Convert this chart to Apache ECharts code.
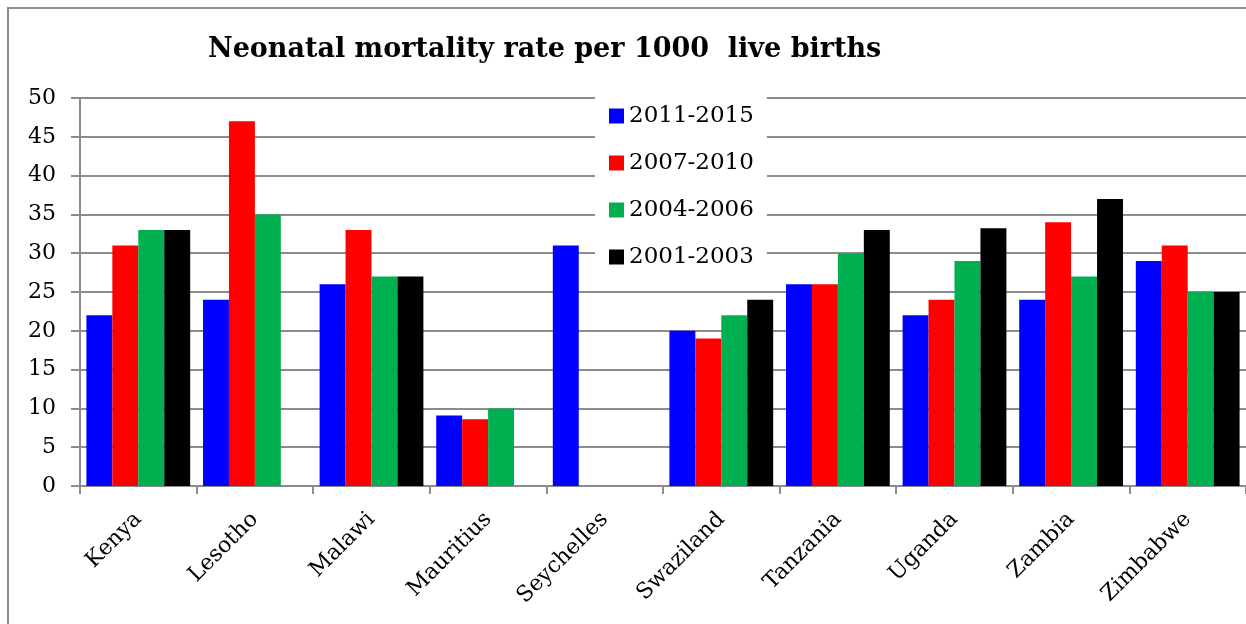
<!DOCTYPE html>
<html>
<head>
<meta charset="utf-8">
<script src="https://cdn.jsdelivr.net/npm/echarts@6/dist/echarts.min.js"></script>
<style>
html, body { margin: 0; padding: 0; background: #fff; }
#main { width: 1246px; height: 624px; }
</style>
</head>
<body>
<div id="main"></div>
<script>
var countries = ['Kenya', 'Lesotho', 'Malawi', 'Mauritius', 'Seychelles', 'Swaziland', 'Tanzania', 'Uganda', 'Zambia', 'Zimbabwe'];
var periods = ['2011-2015', '2007-2010', '2004-2006', '2001-2003'];
var colors = ['#0000ff', '#ff0000', '#00b050', '#000000'];
var v2011 = [22, 24, 26, 9.1, 31, 20, 26, 22, 24, 29];
var v2007 = [31, 47, 33, 8.6, null, 19, 26, 24, 34, 31];
var v2004 = [33, 35, 27, 10, null, 22, 30, 29, 27, 25];
var v2001 = [33, null, 27, null, null, 24, 33, 33.2, 37, 25];
var yTicks = [0, 5, 10, 15, 20, 25, 30, 35, 40, 45, 50];

var seriesData = [v2011, v2007, v2004, v2001];
var fontFam = 'DejaVu Serif';

var option = {
	animation: false,
	color: colors,
	title: {
		text: 'Neonatal mortality rate per 1000  live births',
		left: 203,
		top: 31,
		textStyle: { fontFamily: fontFam, fontWeight: 'bold', fontSize: 27, color: '#000' }
	},
	graphic: [{
		type: 'rect',
		shape: { x: 8, y: 8, width: 1300, height: 700 },
		style: { fill: 'none', stroke: '#8c8c8c', lineWidth: 2 },
		silent: true
	}],
	legend: {
		data: periods,
		orient: 'vertical',
		left: 595,
		top: 96,
		padding: [8, 13, 8, 14],
		backgroundColor: '#fff',
		itemWidth: 15,
		itemHeight: 15,
		itemGap: 23,
		icon: 'rect',
		textStyle: { fontFamily: fontFam, fontSize: 23, color: '#000', lineHeight: 24 }
	},
	grid: { left: 80, top: 98, width: 1170, height: 388, containLabel: false },
	xAxis: {
		type: 'category',
		data: countries,
		axisLine: { lineStyle: { color: '#8c8c8c', width: 2 } },
		axisTick: { show: true, length: 8, lineStyle: { color: '#8c8c8c', width: 2 } },
		axisLabel: { rotate: 45, margin: 30, fontFamily: fontFam, fontSize: 22, color: '#000', interval: 0 }
	},
	yAxis: {
		type: 'value',
		min: yTicks[0],
		max: yTicks[yTicks.length - 1],
		interval: 5,
		axisLine: { show: true, lineStyle: { color: '#8c8c8c', width: 2 } },
		axisTick: { show: true, length: 9, lineStyle: { color: '#8c8c8c', width: 2 } },
		axisLabel: { margin: 24, fontFamily: fontFam, fontSize: 22, color: '#000' },
		splitLine: { lineStyle: { color: '#8c8c8c', width: 2 } }
	},
	series: periods.map(function(name, i) {
		return {
			name: name,
			type: 'bar',
			data: seriesData[i],
			barGap: '0%',
			barCategoryGap: '11%',
			itemStyle: { color: colors[i] }
		};
	})
};

var myChart = echarts.init(document.getElementById('main'));
myChart.setOption(option);
</script>
</body>
</html>
